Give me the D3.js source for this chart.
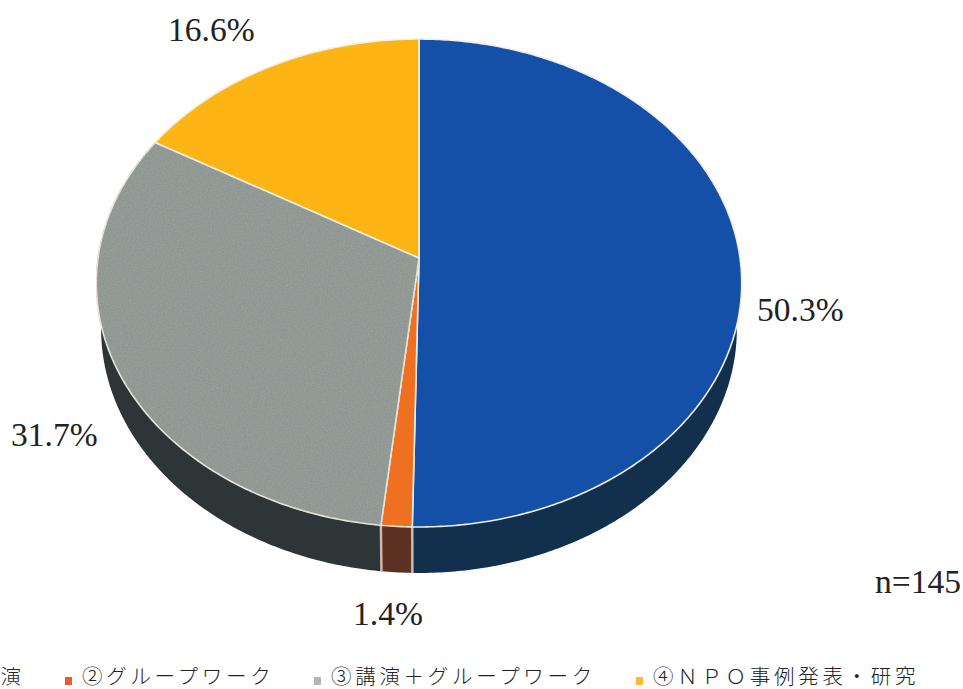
<!DOCTYPE html>
<html>
<head>
<meta charset="utf-8">
<script src="https://cdn.jsdelivr.net/npm/d3@7"></script>
<style>
  html, body { margin: 0; background: #fff; overflow: hidden; }
  text { fill: #222; }
  .pct { font-family: "Liberation Serif", serif; font-size: 33.5px; }
  .leg { font-family: "Noto Sans CJK JP", sans-serif; font-size: 20.5px; font-weight: 300; letter-spacing: 3.7px; }
</style>
</head>
<body>
<div id="canvas"></div>
<script>
const categories = ["①講演", "②グループワーク", "③講演＋グループワーク", "④ＮＰＯ事例発表・研究"];
const values = [50.3, 1.4, 31.7, 16.6];
const topColors = ["#1450a8", "#ee7020", "#8c9591", "#fdb515"];
const sideColors = ["#12304e", "#5b3122", "#2d3536", "#5c4a1a"];
const note = "n=145";

const width = 963, height = 689;
const svg = d3.select("#canvas").append("svg").attr("width", width).attr("height", height);

// the photographed pie leans back, so the middle of the disc sits above the middle of the ellipse
const cx = 419, cy = 258, a = 321, b = 241.4, k = -0.1025, depth = 46;
const project = (t, shrink, dy) => {
  const u = Math.sin(t), v = -Math.cos(t), w = 1 + k * v;
  return [cx + shrink * a * u / w, cy + dy + b * v / w];
};
const steps = t => d3.range(t.startAngle, t.endAngle, 0.01).concat(t.endAngle);
const line = d3.line();

const slices = d3.pie().sort(null)(values);

const defs = svg.append("defs");
const noise = defs.append("filter").attr("id", "grain").attr("x", 0).attr("y", 0).attr("width", 1).attr("height", 1);
noise.append("feTurbulence").attr("type", "fractalNoise").attr("baseFrequency", 0.7).attr("numOctaves", 2).attr("seed", 3).attr("result", "n");
noise.append("feColorMatrix").attr("in", "n").attr("type", "matrix")
  .attr("values", "0 0 0 0 0.4  0 0 0 0 0.4  0 0 0 0 0.4  0.9 0 0 0 -0.25").attr("result", "g");
noise.append("feComposite").attr("in", "g").attr("in2", "SourceAlpha").attr("operator", "in").attr("result", "c");
noise.append("feMerge").selectAll("feMergeNode").data(["SourceGraphic", "c"]).enter()
  .append("feMergeNode").attr("in", d => d);

// side wall
svg.append("g").selectAll("path").data(slices).enter().append("path")
  .attr("fill", (d, i) => sideColors[i])
  .attr("d", d => {
    const ts = steps(d);
    const upper = ts.map(t => project(t, 1, 0));
    const lower = ts.slice().reverse().map(t => project(t, 0.985, depth));
    return line(upper.concat(lower)) + "Z";
  });

// pale edges where the slices meet on the wall
svg.append("g").selectAll("line").data(slices.slice(0, 2)).enter().append("line")
  .attr("stroke", "#c9b9ae").attr("stroke-width", 2.5)
  .each(function (d) {
    const p = project(d.endAngle, 1, 0), q = project(d.endAngle, 0.985, depth);
    d3.select(this).attr("x1", p[0]).attr("y1", p[1]).attr("x2", q[0]).attr("y2", q[1]);
  });

// top face
svg.append("g").selectAll("path").data(slices).enter().append("path")
  .attr("fill", (d, i) => topColors[i])
  .attr("stroke", "#f1eee4").attr("stroke-width", 1.6).attr("stroke-linejoin", "round")
  .attr("filter", (d, i) => i === 2 ? "url(#grain)" : null)
  .attr("d", d => line([[cx, cy]].concat(steps(d).map(t => project(t, 1, 0)))) + "Z");

// percentage labels
const labelPos = [[757, 321], [353, 625], [11, 446], [168, 41]];
svg.append("g").selectAll("text").data(values).enter().append("text")
  .attr("class", "pct")
  .attr("x", (d, i) => labelPos[i][0]).attr("y", (d, i) => labelPos[i][1])
  .text(d => d.toFixed(1) + "%");

svg.append("text").attr("class", "pct").attr("x", 875).attr("y", 593).text(note);

// legend, the first entry runs off the left edge
const legendX = [-48, 82, 331, 653];
const markerX = [-66, 65, 314, 636];
const legend = svg.append("g").selectAll("g").data(categories).enter().append("g");
legend.append("rect")
  .attr("x", (d, i) => markerX[i]).attr("y", 677).attr("width", 7).attr("height", 8)
  .attr("fill", (d, i) => ["#1450a8", "#ee5a30", "#b4b6b4", "#fdb93a"][i]);
legend.append("text").attr("class", "leg")
  .attr("x", (d, i) => legendX[i]).attr("y", 684)
  .text(d => d);
</script>
</body>
</html>
